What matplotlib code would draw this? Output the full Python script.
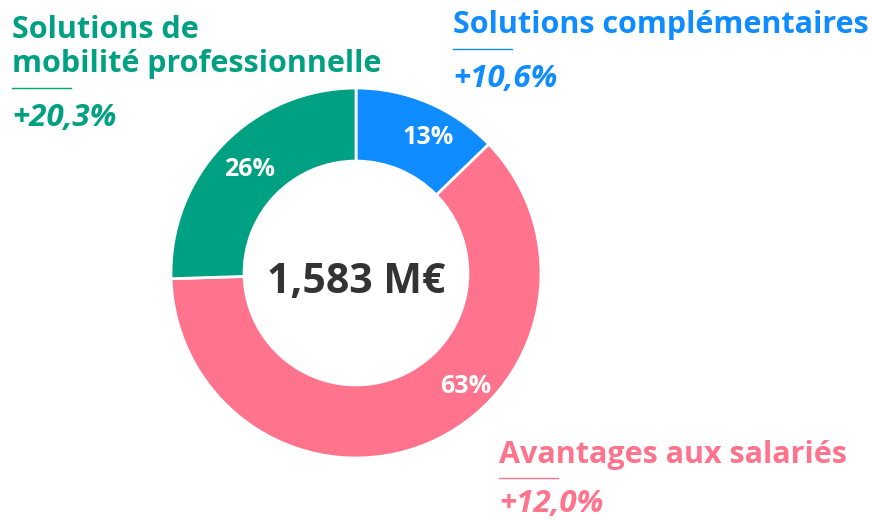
import matplotlib
matplotlib.use('Agg')
import matplotlib.pyplot as plt
import numpy as np

# data
segments = ['Solutions complémentaires', 'Avantages aux salariés', 'Solutions de\nmobilité professionnelle']
shares = [13, 63, 26]
growth = ['+10,6%', '+12,0%', '+20,3%']
total_label = '1,583 M€'
colors = ['#0F8CFF', '#FF738C', '#00A082']

plt.rcParams['font.family'] = ['Open Sans', 'DejaVu Sans']

W, H = 872, 520
fig = plt.figure(figsize=(W / 100, H / 100), dpi=100)

# donut axes, center (356, 273), radius 185 px
cx, cy, r = 356, 273, 185
ax = fig.add_axes([(cx - r) / W, (H - cy - r) / H, 2 * r / W, 2 * r / H])
wedges, texts, autotexts = ax.pie(shares, colors=colors, startangle=90, counterclock=False,
                                  radius=1, autopct='%d%%', pctdistance=0.8,
                                  wedgeprops=dict(width=0.395, edgecolor='white', linewidth=2),
                                  textprops=dict(color='white', fontsize=18, fontweight='bold'))
for t, s in zip(autotexts, shares):
    t.set_text(f'{s}%')
# nudge the labels of the blue and pink slices
for t, deg, d in [(autotexts[0], 62, 0.83), (autotexts[1], -46, 0.85)]:
    a = np.deg2rad(deg)
    t.set_position((d * np.cos(a), d * np.sin(a)))
ax.set_xlim(-1, 1)
ax.set_ylim(-1, 1)
ax.set_aspect('equal')
ax.axis('off')

ax.text(0, -0.05, total_label, ha='center', va='center', fontsize=29.5, fontweight='bold', color='#333333')


def fx(x):
    return x / W


def fy(y):
    return 1 - y / H


def label(x, y_title, y_rule, y_growth, title, g, color):
    for i, line in enumerate(title.split('\n')):
        fig.text(fx(x), fy(y_title + 34 * i), line, ha='left', va='baseline', fontsize=22,
                 fontweight='bold', color=color)
    fig.add_artist(plt.Line2D([fx(x), fx(x + 59)], [fy(y_rule), fy(y_rule)], color=color, lw=1))
    fig.text(fx(x), fy(y_growth), g, ha='left', va='baseline', fontsize=22.5,
             fontweight='bold', style='italic', color=color)


label(453, 33, 49, 87, segments[0], growth[0], colors[0])
label(499, 463, 478, 512, segments[1], growth[1], colors[1])
label(12, 38, 88, 126, segments[2], growth[2], colors[2])

fig.savefig('out.png', dpi=100)
